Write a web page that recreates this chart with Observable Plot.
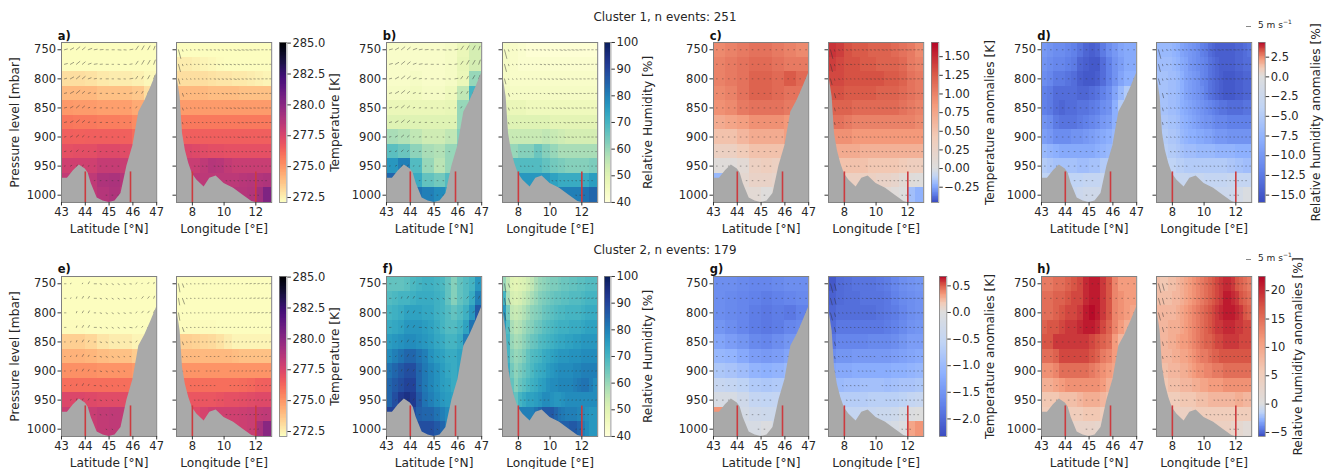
<!DOCTYPE html>
<html><head><meta charset="utf-8">
<script src="https://cdn.jsdelivr.net/npm/d3@7"></script>
<script src="https://cdn.jsdelivr.net/npm/@observablehq/plot@0.6"></script>
<style>
html,body{margin:0;padding:0;background:#fff;width:1333px;height:469px;overflow:hidden}
#c{position:relative;width:1333px;height:469px;font-family:"DejaVu Sans";color:#262626}
.t{position:absolute;transform:translate(-50%,-50%);white-space:nowrap;font-size:11.9px}
.l{position:absolute;transform:translateY(-50%);font-weight:bold;font-size:11.5px;color:#111}
.k{position:absolute;transform:translateY(-50%);font-size:9px;white-space:nowrap}
.k sup{font-size:6px;line-height:0}
.q{position:absolute;height:1px;width:5px;background:#888}
svg{position:absolute;max-width:none!important}
g[aria-label$="-axis label"]{font-size:12.2px}
</style></head><body><div id="c"></div>
<script>
// ---------- grid ----------
const pressureLevels=[750,775,800,825,850,875,900,925,950,975,1000];
// ---------- terrain and markers ----------
const terrainLat=[43,43.25,43.5,43.75,44,44.12,44.25,44.5,44.75,45,45.25,45.5,45.75,46,46.25,46.5,46.75,47];
const terrainLatP=[971,971,958,948,955,962,980,1005,1010,1012.5,1010,997,950,915,857,838,815,790];
const terrainLon=[7,7.23,7.38,7.56,7.77,8,8.28,8.74,9.1,9.5,10,10.6,11.2,11.75,12,13];
const terrainLonP=[790,831,894,923,945,963,974,986,971,967,980,988,1000,1011,1012.5,1012.5];
const markersLat=[44,45.9], markersLon=[8,12];
// ---------- cluster 1 ----------
const tempLat1=[[272,272,272,272,272,272,272,272],[272,272,272,272,272,272,272,272],[273,273,272.9,272.7,272.6,272.6,272.5,272.3],[274,274,274,273.8,273.8,273.8,273.6,273],[274.9,274.8,274.8,274.7,274.7,274.7,274.4,274],[275.8,275.7,275.7,275.6,275.6,275.5,275.2,275],[276.5,276.4,276.5,276.5,276.5,276.4,276,276],[277,277.1,277.1,277.3,277.3,277.2,277,277],[277.8,277.8,277.8,278.1,278.1,278,277.8,278],[278.2,278.2,278.3,278.8,278.9,278.6,278.3,278.3],[278.5,278.5,278.3,278.6,278.8,278.4,278.3,278.3]];
const tempLon1=[[272,272,272,272,272,272,272,272,272,272,272,272],[272.6,272.6,272.5,272.4,272.3,272.2,272.1,272.1,272,272,272,272],[273,273,273,273,272.9,272.8,272.8,272.7,272.7,272.6,272.5,272.4],[274,274,274,274,273.9,273.9,273.9,273.9,273.8,273.8,273.8,273.8],[274.8,274.8,274.8,274.8,274.8,274.8,274.8,274.8,274.8,274.8,274.8,274.8],[275.7,275.7,275.7,275.7,275.7,275.7,275.7,275.7,275.7,275.7,275.7,275.7],[276.5,276.5,276.5,276.5,276.5,276.5,276.5,276.5,276.5,276.5,276.5,276.5],[277.3,277.4,277.3,277.2,277.1,277.1,277,277,277,277,277,277],[278,278,278,278.3,278.6,278.5,278.2,278,278,278,278,278],[278.4,278.4,278.4,278.4,278.4,278.4,278.4,278.4,278.5,278.6,278.7,278.8],[278.6,278.6,278.6,278.6,278.6,278.6,278.6,278.6,278.6,278.7,279.2,280.3]];
const rhLat1=[[43,43,43,43,43,44,47,52],[43,43,43,43,43,44,48,52],[43,43,44,43,43,44,47,60],[44,44,45,44,44,46,55,70],[47,47,47,47,47,48,60,70],[50,50,50,50,50,50,60,70],[58,57,55,53,53,55,62,70],[67,65,61,58,57,60,65,70],[76,80,68,60,56,60,70,70],[84,80,72,66,64,68,70,70],[80,80,82,80,78,75,70,70]];
const rhLon1=[[44,43,42,41,41,41,41,41,41,41,41,41],[44,43,42,42,42,42,42,42,42,42,42,42],[44,43,43,43,43,43,43,43,43,43,43,43],[45,44,44,44,44,44,44,44,44,44,44,44],[48,47,47,46,46,46,46,46,46,46,46,46],[50,50,50,50,50,50,49,49,49,49,49,49],[54,54,54,54,54,55,54,53,52,52,52,52],[60,60,62,62,65,62,60,58,58,58,58,58],[68,68,68,68,68,66,64,63,62,62,62,63],[76,76,76,76,76,76,74,72,72,72,72,75],[80,80,80,80,80,80,80,80,80,80,82,84]];
const dTempLat1=[[.95,1,1.05,1.1,1.1,1.05,1,.95],[1,1.05,1.1,1.15,1.15,1.1,1.05,1.05],[1,1.05,1.1,1.2,1.2,1.15,1.25,1.15],[.95,1,1.1,1.2,1.2,1.15,1.1,1.1],[.9,.95,1.05,1.1,1.1,1.1,1.05,1],[.7,.75,.8,.9,.9,.9,.85,.8],[.5,.5,.6,.7,.7,.7,.8,.7],[.3,.3,.4,.5,.5,.5,.5,.5],[.05,.05,.1,.3,.35,.3,.3,.3],[-.2,.1,.15,.25,.25,.2,.2,.2],[.1,.1,.1,.1,.02,.1,.1,.1]];
const dTempLon1=[[1.45,1.4,1.3,1.25,1.25,1.2,1.2,1.2,1.15,1.1,1.05,.95],[1.4,1.35,1.3,1.3,1.25,1.25,1.2,1.2,1.2,1.15,1.05,1],[1.35,1.35,1.3,1.3,1.3,1.3,1.3,1.25,1.25,1.2,1.1,1.05],[1.3,1.3,1.25,1.25,1.25,1.25,1.2,1.2,1.2,1.15,1.1,1.05],[1.2,1.2,1.2,1.15,1.15,1.15,1.15,1.15,1.15,1.1,1.05,1],[1.1,1.1,1.05,1,1,1,1,1,1,1,1,.95],[.9,.9,.9,.85,.85,.85,.85,.85,.85,.85,.85,.85],[.7,.7,.7,.7,.65,.65,.65,.65,.65,.65,.65,.65],[.5,.5,.5,.5,.5,.45,.45,.45,.45,.4,.35,.35],[.35,.35,.3,.3,.3,.3,.25,.25,.2,.1,.05,.02],[.3,.3,.25,.25,.2,.2,.15,.1,.05,0,-.18,-.22]];
const dRhLat1=[[-10,-10.5,-11,-11,-11.5,-12,-13,-14,-14.5,-14,-12.5,-11,-10,-9,-8.5,-8.5],[-10.5,-11,-11.5,-11.5,-12,-12.5,-14,-14.5,-15,-15,-13.5,-12,-10.5,-9.5,-8.5,-8.5],[-11,-11.5,-12.5,-12.5,-13,-13.5,-14.5,-15,-15,-14.5,-13.5,-12,-10.5,-9,-8,-8],[-12,-12.5,-13.5,-13.5,-13.5,-13.5,-14,-14,-13.5,-13,-12,-11,-9,-7,-5,-5],[-12,-12.5,-13.5,-14,-13.5,-13.5,-13,-13,-12.5,-12,-11,-10.5,-8,-5,-5,-5],[-10.5,-11,-12.5,-13,-13,-13,-12.5,-12,-11.5,-11,-10,-9.5,-8,-6,-6,-6],[-9.5,-10,-11,-11,-11,-10.5,-10.5,-10,-9.5,-9,-8.5,-8,-7,-6,-6,-6],[-7,-7.5,-8,-8.5,-8.5,-8.5,-8.5,-8.5,-8.5,-8,-7.5,-7,-6,-6,-6,-6],[-5,-5.5,-6,-6,-6,-6,-6.5,-6.5,-6,-6,-5,-5,-5,-5,-5,-5],[-4,-4,-4,-4,-4,-4,-4,-3.5,-3.5,-3.5,-3,-3,-3,-3,-3,-3],[-3,-3,-3,-3,-3,-3,-2.5,-2,-2,-2,-2.5,-2.5,-3,-3,-3,-3]];
const dRhLon1=[[-7,-7,-7,-7,-7.5,-8,-9,-9.5,-10,-10.5,-11,-12,-12.5,-13.5,-14,-14.5,-14.5,-14.5,-14.5,-14.5,-14,-14,-13.5,-13],[-6.5,-6.5,-6.5,-6.5,-7,-7.5,-8.5,-9,-10,-10.5,-11,-11.5,-12,-13,-13.5,-14,-14.5,-14.5,-14.5,-14.5,-14,-14,-13.5,-13.5],[-6,-6,-6,-6.5,-6.5,-7,-8,-9,-9.5,-10,-10.5,-11.5,-12,-13,-13.5,-14,-14.5,-15,-15,-15,-14.5,-14.5,-14,-14],[-6,-6,-6,-6.5,-6.5,-7,-8,-9,-9.5,-10,-10.5,-11,-12,-13,-13.5,-14,-14.5,-15,-15,-15,-14.5,-14.5,-14,-14],[-6,-6,-6,-6.5,-6.5,-7,-8,-8.5,-9,-9.5,-10,-10.5,-11,-11.5,-12,-12.5,-13,-13,-13.5,-13.5,-13.5,-13.5,-13,-13],[-5.5,-5.5,-5.5,-6,-6,-6.5,-7.5,-8,-8.5,-9,-9.5,-10,-10.5,-10.5,-11,-11.5,-11.5,-11.5,-12,-12,-12,-12,-12,-12],[-5,-5,-5,-5.5,-5.5,-6,-7,-7.5,-8,-8,-8.5,-8.5,-9,-9,-9.5,-10,-10,-10,-10.5,-10.5,-10.5,-10.5,-10.5,-10.5],[-4.5,-4.5,-4.5,-5,-5,-5.5,-6,-6.5,-6.5,-6.5,-7,-7,-7,-7,-7,-7.5,-7.5,-7.5,-7.5,-7.5,-8,-8,-8,-8],[-4,-4,-4,-4,-4,-4.5,-4.5,-5,-5,-5,-5,-5,-5,-5,-5,-5,-5,-5,-5.5,-5.5,-6,-6,-6.5,-6.5],[-3,-3,-3,-3,-3,-3,-3,-3,-3.5,-3.5,-3,-3,-3.5,-3.5,-3.5,-3.5,-3.5,-3.5,-3,-3,-3.5,-3.5,-3.5,-3.5],[-3,-3,-3,-3,-3,-3,-3,-3,-2.5,-2.5,-2.5,-2.5,-2.5,-2.5,-2.5,-2.5,-2.5,-2.5,-2.5,-2.5,-1.5,-1.5,-.5,-.5]];
// ---------- cluster 2 ----------
const tempLat2=[[272,272,272,272,272,272,272,272],[272,272,272,272,272,272,272,272],[272,272,272,272,272,272,272,272],[272.2,272.2,272.1,272.1,272,272,272,272],[273.4,273.4,273.2,272.8,272.6,272.6,272.4,272.3],[274.2,274.2,274.1,273.9,273.8,273.8,273.5,273.4],[275.1,275.1,275.1,275,275,275,274.8,274.8],[276,276,276,276,276,276,275.9,275.9],[277.4,277.4,277.3,277.2,277.2,277.2,277.1,277.1],[278,278,278,278.2,278.3,278.2,278,278],[278,278,278,278.2,278.3,278.2,278,278]];
const tempLon2=[[272,272,272,272,272,272,272,272,272,272,272,272],[272,272,272,272,272,272,272,272,272,272,272,272],[272,272,272,272,272,272,272,272,272,272,272,272],[272.2,272.2,272.2,272.2,272.2,272.1,272.1,272.1,272,272,272,272],[273.4,273.4,273.3,273.2,273.1,272.9,272.6,272.4,272.4,272.4,272.4,272.4],[274,274,274,274,274,274,274,273.9,273.8,273.8,273.8,273.8],[275,275,275,275,275,275,275,275,275,275,275,275],[276,276,276,276,276,276,276,276,276.1,276.2,276.4,276.5],[276.8,276.8,276.8,276.8,276.8,276.9,277,277,277.1,277.2,277.3,277.3],[277.3,277.3,277.3,277.6,277.8,277.8,277.8,277.8,277.9,278,278.2,278.3],[277.5,277.5,277.5,277.7,277.8,277.8,277.8,277.8,277.9,278,279,280]];
const rhLat2=[[66,66,66,67,69,70,71,71,70,69,66,62,66,68,70,76],[68,69,70,70,71,72,72,72,71,70,66,62,66,68,72,80],[70,71,72,74,74,74,73,73,71,70,68,66,68,71,76,86],[72,73,74,76,76,76,75,74,72,70,68,68,70,74,82,86],[75,76,77,78,78,77,76,75,73,72,70,70,72,80,82,82],[78,80,82,84,84,82,80,77,75,74,72,72,74,78,78,78],[82,84,86,88,88,84,81,79,77,75,73,72,74,76,76,76],[84,86,88,90,90,84,81,79,77,75,74,72,74,76,76,76],[84,88,92,94,92,86,82,80,78,76,75,74,76,76,76,76],[90,90,90,90,88,85,84,84,82,80,78,76,76,76,76,76],[90,90,90,90,88,88,88,88,86,84,80,80,80,80,80,80]];
const rhLon2=[[60,55,50,49,50,51,53,55,58,60,61,62,63,63,64,65,65,66,66,67,67,68,68,68],[70,58,52,51,52,54,56,58,60,62,63,64,65,66,66,67,67,68,68,68,69,70,70,70],[76,64,55,54,55,57,59,61,62,63,65,66,67,68,69,69,70,70,70,70,71,72,72,72],[76,68,58,56,57,59,61,62,64,65,67,68,69,70,71,71,71,72,72,72,73,74,74,74],[76,70,60,58,59,61,63,65,66,68,69,70,71,72,73,73,74,74,75,75,76,76,76,76],[76,70,62,60,61,63,66,68,69,70,72,73,74,75,76,76,76,77,77,77,78,78,78,78],[76,72,64,61,63,65,67,69,71,72,73,75,76,77,78,78,78,78,79,79,80,80,80,80],[76,72,66,62,65,67,69,71,72,74,75,77,78,78,79,79,79,79,80,81,82,82,80,78],[76,72,68,66,70,72,74,74,75,76,78,78,77,76,76,77,78,78,78,78,78,78,78,78],[80,80,80,80,80,80,80,80,82,84,86,86,86,84,82,81,80,80,80,79,78,77,76,76],[84,84,84,84,84,84,84,84,85,85,85,85,85,85,85,85,85,86,86,84,80,78,76,76]];
const dTempLat2=[[-1.6,-1.6,-1.65,-1.7,-1.7,-1.65,-1.6,-1.6],[-1.6,-1.65,-1.7,-1.75,-1.8,-1.75,-1.7,-1.65],[-1.6,-1.65,-1.7,-1.8,-1.85,-1.8,-1.85,-1.75],[-1.5,-1.6,-1.7,-1.8,-1.85,-1.8,-1.7,-1.65],[-1.3,-1.4,-1.5,-1.65,-1.7,-1.6,-1.5,-1.4],[-1.05,-1.1,-1.25,-1.4,-1.45,-1.4,-1.3,-1.2],[-.8,-.85,-.95,-1.1,-1.15,-1.1,-1,-1],[-.45,-.5,-.6,-.75,-.8,-.75,-.7,-.7],[-.15,-.15,-.3,-.5,-.55,-.5,-.5,-.5],[.35,-.1,-.2,-.3,-.35,-.35,-.3,-.3],[-.1,-.1,-.15,-.15,-.05,-.2,-.2,-.2]];
const dTempLon2=[[-2.2,-2,-1.95,-1.9,-1.9,-1.9,-1.85,-1.8,-1.7,-1.6,-1.55,-1.5],[-2.1,-2,-1.95,-1.95,-1.9,-1.9,-1.9,-1.85,-1.75,-1.65,-1.6,-1.55],[-2.05,-1.95,-1.95,-1.95,-1.95,-1.95,-1.9,-1.85,-1.8,-1.7,-1.6,-1.55],[-2,-1.85,-1.85,-1.85,-1.85,-1.85,-1.85,-1.8,-1.75,-1.65,-1.55,-1.5],[-1.85,-1.7,-1.7,-1.7,-1.7,-1.65,-1.65,-1.65,-1.6,-1.5,-1.4,-1.4],[-1.6,-1.5,-1.5,-1.45,-1.45,-1.45,-1.45,-1.45,-1.4,-1.35,-1.3,-1.25],[-1.3,-1.25,-1.25,-1.2,-1.2,-1.2,-1.2,-1.2,-1.15,-1.15,-1.1,-1.05],[-1,-1,-.95,-.95,-.9,-.9,-.9,-.95,-.9,-.85,-.85,-.8],[-.7,-.7,-.7,-.7,-.7,-.65,-.65,-.65,-.65,-.6,-.5,-.45],[-.5,-.5,-.5,-.5,-.45,-.45,-.4,-.4,-.35,-.2,-.05,0],[-.4,-.4,-.4,-.4,-.35,-.3,-.3,-.2,-.15,-.05,.3,.35]];
const dRhLat2=[[14,14,15,15,16,17,18,20,21,21,19,17,13,11,11,11],[15,15,16,16,17,18,18,20,21,21,19,17,13,12,11,11],[15,15,16,17,18,18,19,21,22,21,19,17,13,12,11,10],[16,17,17,18,19,19,20,21,21,20,18,16,13,11,9,9],[17,17,19,19,19,19,19,19,18,17,16,15,11,8,8,8],[15,15,16,18,18,18,18,18,17,16,14,13,11,9,9,9],[12,12,13,15,15,15,15,15,14,13,12,11,10,9,9,9],[9,9,10,11,12,12,12,12,12,12,11,9,8,8,8,8],[6,6,6,7,7,7,8,9,9,9,8,7,6,6,6,6],[5,5,5,5,5,5,5,6,6,6,5,5,5,5,5,5],[3,3,3,3,3,3,3,3,3,2.5,3,3,3,3,3,3]];
const dRhLon2=[[7,6,6,7,7,8,9,10,11,12,13,14,15,16,17,18,19,20,20,19,17,16,15,14],[7,7,7,7,8,8,9,10,11,12,13,14,15,16,17,18,19,21,21,20,19,17,16,15],[8,8,8,8,8,9,10,11,12,13,14,15,16,17,18,19,20,21,21,21,20,19,17,16],[8,8,8,9,9,9,10,11,12,13,14,15,16,17,18,19,19,20,20,20,19,19,18,18],[8,8,8,9,9,10,11,11,12,13,14,15,16,16,17,18,18,19,19,19,19,18,18,18],[8,8,8,8,9,9,10,10,11,12,13,14,14,15,16,16,17,17,17,17,17,17,17,17],[7,7,7,8,8,8,9,9,10,11,12,12,13,13,14,14,14,15,15,15,15,15,15,15],[6,6,6,7,7,7,8,8,8,9,9,10,10,11,11,11,11,12,12,12,12,12,12,12],[5,5,5,5,5,5,6,6,6,6,7,7,7,8,8,8,8,8,8,8,9,9,8,8],[4,4,4,4,4,4,4,4,4,5,5,5,5,5,5,5,5,5,5,5,5,5,5,5],[4,4,4,4,4,4,4,4,4,4,4,4,4,4,4,4,4,4,4,3,2,2,1,1]];
// ---------- wind: speed per level and column (base-36 digits, m/s), direction per column (deg) ----------
const windCentreLat=[43.125,43.375,43.625,43.875,44.125,44.375,44.625,44.875,45.125,45.375,45.625,45.875,46.125,46.375,46.625,46.875];
const windCentreLon=[7.125,7.375,7.625,7.875,8.125,8.375,8.625,8.875,9.125,9.375,9.625,9.875,10.125,10.375,10.625,10.875,11.125,11.375,11.625,11.875,12.125,12.375,12.625,12.875];
const dirFullLat=[75,60,50,50,70,80,85,90,90,95,95,80,35,30,30,20];
const speedFullLat=["4565544334346665","4565443322335666","3565432323244455","3564322222233330","3454222211112200","3454222211110000","2343122111100000","2232121111100000","1222111111000000","0000011111000000","0000000111000000"];
const dirFullLon=[165,160,120,110,100,100,100,100,100,100,105,105,105,105,105,105,100,100,100,95,95,90,90,90];
const speedFullLon=["c21112122222223333332222","a21111111222222222222222","711111111222223222222222","041111111112222222222222","031111111111222222222221","021111111111111222222222","001111111111111222112222","000111111111111111111111","000011110111111111111111","000000000000111111111110","000000000000000000111000"];
const dirAnomLat=[90,90,90,90,90,90,90,90,90,90,90,90,90,90,90,90];
const speedAnomLat=["1111111111111111","1111111111111111","1111111111111111","1111111111111111","1111111111111100","1111111111111000","1111111111110000","1111111111100000","1110111111000000","0000011110000000","0000000110000000"];
const dirAnomLon=[165,165,110,110,105,100,100,100,100,100,100,100,100,100,100,100,95,95,95,95,95,90,90,90];
const speedAnomLon1=["c22122212222232323232222","a22122112222222222222222","822111111222222222222222","062111111112222222222222","041111111111222222222221","031111111111111111111111","001111111111111111111111","000111111111111111111111","000011110111111111111111","000000000000111111111110","000000000000000000111000"];
const dirFull2Lat=[90,60,20,30,30,90,110,120,120,120,110,100,50,40,40,20];
const speedFull2Lat=["2101332222222122","2123332222221333","2023322222222333","2023332222232233","1123222222122200","1123222222110000","1123222222100000","1123222211100000","0122222111000000","0000011110000000","0000000110000000"];
const dirFull2Lon=[170,160,110,100,95,90,90,90,90,90,85,85,85,85,85,85,80,80,80,80,80,80,80,80];
const speedFull2Lon=["b51111211111111112222222","981111111111111111222222","a11111111111111111222222","061111111111111111111111","041111111111111111111111","011111011110111111111111","011111011110011111111111","000111111100011111111111","000011110111001111111111","000000000000111111111110","000000000000000000111000"];
const speedAnomLon2=["c92211111222222222222222","981111111222222222222222","a51111111222222222222222","061111111111111111111111","051111111111111111111111","031111011111011111111111","021111011111001111111111","000111111100011111111111","000011110111001111111111","000000000000111111111110","000000000000000000111000"];
// ---------- colour bar ticks ----------
const ticksTemp=[272.5,275,277.5,280,282.5,285];
const ticksRh=[40,50,60,70,80,90,100];
const ticksDTemp1=[-.25,0,.25,.5,.75,1,1.25,1.5];
const ticksDRh1=[-15,-12.5,-10,-7.5,-5,-2.5,0,2.5];
const ticksDTemp2=[-2,-1.5,-1,-.5,0,.5];
const ticksDRh2=[-5,0,5,10,15,20];
const coolwarm=["#3b4cc0","#6282ea","#8db0fe","#c0d4f5","#dddddd","#f2cbb7","#f49a7b","#d95847","#b40426"];

// ---------- colour scales ----------
const diverging=(lo,hi)=>({type:"linear",clamp:true,domain:[lo,lo*.75,lo*.5,lo*.25,0,hi*.25,hi*.5,hi*.75,hi],range:coolwarm});
const magma={type:"linear",scheme:"magma",reverse:true,domain:[272.1,285.05],clamp:true};
const ylgnbu={type:"linear",scheme:"YlGnBu",domain:[40,100],clamp:true};

const cols=[
 {l:"a)",x:[61.3,176.3],cb:[279.3,286.7],lab:335,c:magma,dom:[272.1,285.05],ticks:ticksTemp,f:".1f",title:"Temperature [K]",lat:tempLat1,lon:tempLon1,w:[dirFullLat,speedFullLat,dirFullLon,speedFullLon],row:0,ylab:true},
 {l:"b)",x:[386.3,501.7],cb:[604.3,610.7],lab:648,c:ylgnbu,dom:[40,100],ticks:ticksRh,f:"d",title:"Relative Humidity [%]",lat:rhLat1,lon:rhLon1,w:[dirFullLat,speedFullLat,dirFullLon,speedFullLon],row:0},
 {l:"c)",x:[713.3,828],cb:[931,938.3],lab:989,c:diverging(-.455,1.69),dom:[-.455,1.69],ticks:ticksDTemp1,f:".2f",title:"Temperature anomalies [K]",lat:dTempLat1,lon:dTempLon1,w:[dirAnomLat,speedAnomLat,dirAnomLon,speedAnomLon1],row:0},
 {l:"d)",x:[1040.7,1155.7],cb:[1258.3,1265],lab:1316,c:diverging(-15.93,4.36),dom:[-15.93,4.36],ticks:ticksDRh1,f:".1f",title:"Relative humidity anomalies [%]",lat:dRhLat1,lon:dRhLon1,w:[dirAnomLat,speedAnomLat,dirAnomLon,speedAnomLon1],row:0,key:true},
 {l:"e)",x:[61.3,176.3],cb:[279.3,286.7],lab:335,c:magma,dom:[272.1,285.05],ticks:ticksTemp,f:".1f",title:"Temperature [K]",lat:tempLat2,lon:tempLon2,w:[dirFull2Lat,speedFull2Lat,dirFull2Lon,speedFull2Lon],row:1,ylab:true},
 {l:"f)",x:[386.3,501.7],cb:[604.3,610.7],lab:648,c:ylgnbu,dom:[40,100],ticks:ticksRh,f:"d",title:"Relative Humidity [%]",lat:rhLat2,lon:rhLon2,w:[dirFull2Lat,speedFull2Lat,dirFull2Lon,speedFull2Lon],row:1},
 {l:"g)",x:[713.3,828],cb:[938.7,946],lab:989,c:diverging(-2.33,.676),dom:[-2.33,.676],ticks:ticksDTemp2,f:".1f",title:"Temperature anomalies [K]",lat:dTempLat2,lon:dTempLon2,w:[dirAnomLat,speedAnomLat,dirAnomLon,speedAnomLon2],row:1},
 {l:"h)",x:[1040.7,1155.7],cb:[1258.3,1265],lab:1298,c:diverging(-5.7,22.5),dom:[-5.7,22.5],ticks:ticksDRh2,f:"d",title:"Relative humidity anomalies [%]",lat:dRhLat2,lon:dRhLon2,w:[dirAnomLat,speedAnomLat,dirAnomLon,speedAnomLon2],row:1,key:true}
];
const rowTop=[42,275.6], H=160, W=95.2;
const mT=4,mB=31,mL=56;
const root=document.getElementById("c");
const style={fontFamily:"DejaVu Sans",fontSize:"11.5px",color:"#262626",background:"transparent",overflow:"visible"};
const place=(svg,x,y)=>{svg.style.left=x+"px";svg.style.top=y+"px";root.appendChild(svg);};
const spike={draw(ctx,l){ctx.moveTo(0,0);ctx.lineTo(0,-l);}};

function panel(col,kind){
  const isLat=kind==="lat";
  const [x0,x1]=isLat?[43,47]:[7,13];
  const matrix=isLat?col.lat:col.lon;
  const step=(x1-x0)/matrix[0].length;
  const cells=[];
  matrix.forEach((r,i)=>r.forEach((v,j)=>cells.push({x1:x0+j*step,x2:x0+(j+1)*step,p:pressureLevels[i],v})));
  const centres=isLat?windCentreLat:windCentreLon;
  const dir=isLat?col.w[0]:col.w[2], speeds=isLat?col.w[1]:col.w[3];
  const wind=[];
  speeds.forEach((s,i)=>[...s].forEach((ch,j)=>{const m=parseInt(ch,36);if(m>0)wind.push({x:centres[j],p:pressureLevels[i],m:m*.75,a:dir[j]});}));
  const ter=(isLat?terrainLat:terrainLon).map((x,i)=>({x,p:(isLat?terrainLatP:terrainLonP)[i]}));
  const svg=Plot.plot({
    width:W+mL+2,height:H+mT+mB,marginLeft:mL,marginRight:2,marginTop:mT,marginBottom:mB,style,
    x:{domain:[x0,x1]},y:{domain:[1012.5,737.5]},color:col.c,length:{type:"identity"},
    marks:[
      Plot.rect(cells,{x1:"x1",x2:"x2",y1:d=>d.p-12.5,y2:d=>d.p+12.5,fill:"v",shapeRendering:"crispEdges"}),
      Plot.vector(wind,{x:"x",y:"p",length:"m",rotate:"a",anchor:"start",shape:spike,stroke:"#333",strokeWidth:.6,strokeOpacity:.7}),
      Plot.areaY(ter,{x:"x",y1:"p",y2:()=>1012.5,fill:"#a9a9a9"}),
      Plot.ruleX(isLat?markersLat:markersLon,{y1:()=>960,y2:()=>1012.5,stroke:"#cc3b3f",strokeWidth:1.6}),
      Plot.frame({stroke:"#808080",strokeWidth:1}),
      Plot.axisX({ticks:isLat?[43,44,45,46,47]:[8,10,12],tickFormat:d=>String(d),tickSize:3.5,tickPadding:2,label:isLat?"Latitude [°N]":"Longitude [°E]",labelAnchor:"center",labelArrow:"none",labelOffset:31,stroke:"#333"}),
      Plot.axisY({ticks:pressureLevels.filter(p=>p%50===0),tickFormat:isLat?(d=>String(d)):(()=>""),tickSize:3.5,tickPadding:2,label:isLat&&col.ylab?"Pressure level [mbar]":null,labelAnchor:"center",labelArrow:"none",labelOffset:51,stroke:"#333"})
    ]
  });
  place(svg,col.x[isLat?0:1]-mL,rowTop[col.row]-mT);
}
function colorbar(col){
  const [lo,hi]=col.dom, n=200;
  const bins=d3.range(n).map(i=>({a:lo+(hi-lo)*i/n,b:lo+(hi-lo)*(i+1)/n}));
  const w=col.cb[1]-col.cb[0], mR=col.lab-col.cb[1]+10;
  const fmt=d3.format(col.f);
  const svg=Plot.plot({
    width:w+mR,height:H+mT+mB,marginLeft:0,marginRight:mR,marginTop:mT,marginBottom:mB,style,
    x:{domain:[0,1],axis:null},y:{domain:[lo,hi]},color:col.c,
    marks:[
      Plot.rect(bins,{x1:()=>0,x2:()=>1,y1:"a",y2:"b",fill:d=>(d.a+d.b)/2,shapeRendering:"crispEdges"}),
      Plot.frame({stroke:"#808080",strokeWidth:.8}),
      Plot.axisY({anchor:"right",ticks:col.ticks,tickFormat:fmt,tickSize:3.5,tickPadding:2,label:col.title,labelAnchor:"center",labelArrow:"none",labelOffset:col.lab-col.cb[1]+4,stroke:"#333"})
    ]
  });
  place(svg,col.cb[0],rowTop[col.row]-mT);
}
function html(cls,x,y,h){const d=document.createElement("div");d.className=cls;d.style.left=x+"px";d.style.top=y+"px";d.innerHTML=h;root.appendChild(d);}
cols.forEach(col=>{
  panel(col,"lat");panel(col,"lon");colorbar(col);
  html("l",col.x[0]-3.5,rowTop[col.row]-6.3,col.l);
  if(col.key){
    const ky=rowTop[col.row]-16.3;
    html("q",1246.3,ky,"");
    html("k",1258,ky-1,"5 m s<sup>−1</sup>");
  }
});
html("t",665,16.7,"Cluster 1, n events: 251");
html("t",665,250.3,"Cluster 2, n events: 179");
</script></body></html>
